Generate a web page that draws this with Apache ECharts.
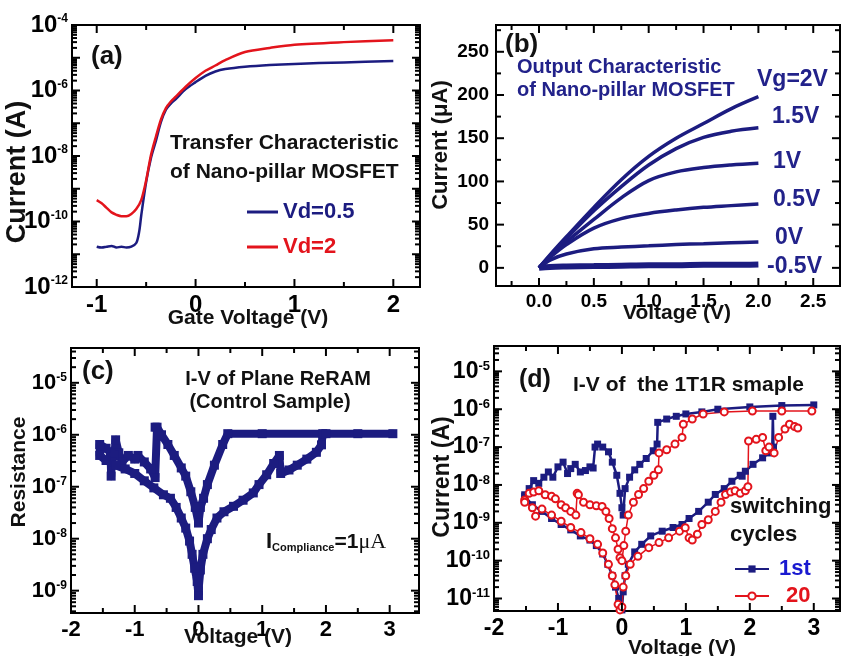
<!DOCTYPE html>
<html><head><meta charset="utf-8">
<script src="https://cdn.jsdelivr.net/npm/echarts@6/dist/echarts.min.js"></script>
<style>html,body{margin:0;padding:0;background:#fff}#c{width:842px;height:656px}</style>
</head><body><div id="c"></div>
<script>
// ---------- Panel (a): transfer characteristic ----------
const aV05 = [-1.0,-0.95,-0.9,-0.85,-0.8,-0.75,-0.7,-0.65,-0.6,-0.57,-0.55,-0.5,-0.45,-0.4,-0.35,-0.3,-0.25,-0.2,-0.1,0.0,0.1,0.2,0.3,0.5,0.75,1.0,1.5,2.0];
const aI05 = [1.7e-11,1.6e-11,1.7e-11,1.8e-11,1.6e-11,1.7e-11,1.6e-11,1.7e-11,2.2e-11,5e-11,1.5e-10,1.6e-9,9e-9,3e-8,1.1e-7,2.6e-7,4e-7,5.5e-7,1.1e-6,1.8e-6,2.8e-6,3.8e-6,4.5e-6,5.3e-6,6e-6,6.5e-6,7.2e-6,7.9e-6];
const aV2 = [-1.0,-0.95,-0.9,-0.85,-0.8,-0.75,-0.7,-0.65,-0.6,-0.55,-0.5,-0.45,-0.4,-0.35,-0.3,-0.25,-0.2,-0.1,0.0,0.1,0.2,0.3,0.5,0.75,1.0,1.5,2.0];
const aI2 = [4.5e-10,3.6e-10,2.6e-10,1.9e-10,1.6e-10,1.45e-10,1.45e-10,1.7e-10,2.4e-10,4.5e-10,1.8e-9,1.1e-8,4e-8,1.3e-7,2.9e-7,4.6e-7,6.5e-7,1.3e-6,2.4e-6,4e-6,5.8e-6,8.5e-6,1.5e-5,2e-5,2.5e-5,3e-5,3.4e-5];

// ---------- Panel (b): output characteristic (µA) ----------
const bV = [0,0.1,0.25,0.5,0.75,1.0,1.25,1.5,1.75,2.0];
const bVgNames = ['Vg=2V','1.5V','1V','0.5V','0V','-0.5V'];
const bI_2 = [0,15,36,70,102,129,150,167,184,198];
const bI_15 = [0,14,34,66,94,119,138,151,158,162];
const bI_1 = [0,13,30,56,81,101,111,116,119,121];
const bI_05 = [0,12,27,46,57,63,67,70,72,74];
const bI_0 = [0,9,16,22,24,25.5,27,28,29,30];
const bI_m05 = [0,1,1.5,2,2.5,3,3,3.5,3.5,4];

// ---------- Panel (c): I-V of plane ReRAM ----------
const cV = [0.0,0.03,0.07,0.14,0.2,0.29,0.4,0.55,0.7,0.86,0.95,1.07,1.18,1.27,1.29,1.42,1.55,1.7,1.85,1.93,1.95,2.5,3.05,2.0,1.0,0.46,0.38,0.25,0.14,0.08,0.03,0.0,-0.05,-0.12,-0.2,-0.27,-0.38,-0.48,-0.58,-0.65,-0.68,-0.68,-0.75,-0.85,-0.95,-1.0,-1.1,-1.2,-1.25,-1.3,-1.32,-1.36,-1.37,-1.38,-1.45,-1.55,-1.55,-1.45,-1.3,-1.15,-1.0,-0.85,-0.7,-0.55,-0.44,-0.35,-0.27,-0.2,-0.14,-0.1,-0.06,-0.02,0.0];
const cI = [1e-9,2.5e-9,5e-9,1e-8,1.5e-8,2.5e-8,3.3e-8,4.2e-8,5.5e-8,7.6e-8,1.1e-7,1.7e-7,2.8e-7,4e-7,1.8e-7,2.1e-7,2.6e-7,3.4e-7,4.6e-7,6.4e-7,1.05e-6,1.05e-6,1.05e-6,1.05e-6,1.05e-6,1.05e-6,6.5e-7,2.6e-7,1.1e-7,6e-8,4e-8,2e-8,4e-8,8e-8,1.6e-7,2.3e-7,4e-7,6.5e-7,1e-6,1.4e-6,1.4e-6,1.5e-7,2.2e-7,3e-7,4e-7,3.4e-7,4e-7,3e-7,4.5e-7,8e-7,4e-7,3e-7,1.6e-7,4.5e-7,5.5e-7,6.5e-7,4e-7,3.2e-7,2.6e-7,2.2e-7,1.8e-7,1.3e-7,9.5e-8,7e-8,6e-8,4e-8,2.5e-8,1.6e-8,9e-9,5e-9,2.7e-9,1.5e-9,8e-10];

// ---------- Panel (d): I-V of the 1T1R sample ----------
const d1stUpV = [-1.52,-1.45,-1.38,-1.3,-1.22,-1.15,-1.08,-1.0,-0.92,-0.85,-0.8,-0.73,-0.65,-0.57,-0.5,-0.45,-0.42,-0.38,-0.3,-0.21,-0.15,-0.08,-0.03,0.0,0.02,0.05,0.12,0.2,0.28,0.38,0.49,0.55,0.56,0.7,0.85,1.0,1.25,1.5,2.0,2.5,3.0];
const d1stUpI = [5.5e-9,8e-9,1.3e-8,1.1e-8,1.6e-8,2.2e-8,1.6e-8,3e-8,4e-8,2e-8,2.7e-8,3.5e-8,2.2e-8,2.4e-8,3e-8,2.8e-8,1e-7,1.2e-7,1e-7,7.5e-8,4e-8,1.8e-8,6e-9,2.5e-9,1.6e-9,8e-9,1.6e-8,2.5e-8,3.5e-8,5e-8,8e-8,1.2e-7,4.5e-7,5.5e-7,6.5e-7,7.5e-7,8.5e-7,1e-6,1.15e-6,1.25e-6,1.3e-6];
const d1stLoV = [-1.52,-1.4,-1.25,-1.1,-0.95,-0.8,-0.65,-0.5,-0.4,-0.3,-0.22,-0.15,-0.1,-0.05,-0.02,0.0,0.02,0.05,0.1,0.2,0.31,0.45,0.63,0.8,0.94,1.05,1.2,1.35,1.46,1.6,1.72,1.85,1.88,1.93,2.05,2.2,2.3,2.35,2.36,2.37];
const d1stLoI = [5e-9,3e-9,2e-9,1.3e-9,9e-10,6.5e-10,4.5e-10,3.5e-10,2.5e-10,1.5e-10,8e-11,4e-11,2e-11,1e-11,6e-12,5e-12,1.5e-11,4e-11,8e-11,1.7e-10,2.7e-10,4.5e-10,6e-10,7.5e-10,9e-10,1.3e-9,2e-9,3.5e-9,5.6e-9,8e-9,1.25e-8,1.8e-8,1.7e-8,2.3e-8,3.5e-8,5.2e-8,7e-8,8e-8,6.5e-7,1e-7];
const d20UpV = [-1.52,-1.45,-1.38,-1.3,-1.2,-1.1,-1.04,-0.95,-0.88,-0.8,-0.72,-0.7,-0.68,-0.6,-0.5,-0.4,-0.31,-0.25,-0.2,-0.15,-0.1,-0.06,-0.03,0.0,0.03,0.06,0.1,0.18,0.26,0.34,0.42,0.5,0.57,0.58,0.7,0.83,0.94,0.96,1.1,1.27,1.6,2.04,2.5,2.97];
const d20UpI = [4e-9,6e-9,6.5e-9,7e-9,5.5e-9,5e-9,4.3e-9,3e-9,2.5e-9,2e-9,1.6e-9,6e-9,5.5e-9,3.5e-9,3e-9,2.8e-9,2.7e-9,2e-9,1.3e-9,7e-10,4e-10,2e-10,1.2e-10,1e-10,2.5e-10,6e-10,1.6e-9,3.5e-9,5.6e-9,8e-9,1.25e-8,1.8e-8,2.5e-8,7e-8,8.5e-8,1.2e-7,1.8e-7,4e-7,5.5e-7,7.5e-7,8.5e-7,9e-7,9e-7,9e-7];
const d20LoV = [-1.52,-1.4,-1.35,-1.25,-1.1,-0.95,-0.8,-0.64,-0.5,-0.38,-0.3,-0.21,-0.15,-0.11,-0.06,-0.03,0.0,0.02,0.06,0.13,0.25,0.42,0.58,0.73,0.9,0.99,1.05,1.1,1.18,1.25,1.35,1.46,1.55,1.62,1.7,1.77,1.85,1.93,1.97,1.98,2.1,2.2,2.25,2.3,2.38,2.45,2.55,2.62,2.7,2.75];
const d20LoI = [3.5e-9,2.5e-9,1.5e-9,2.3e-9,1.6e-9,1.1e-9,7.5e-10,5.5e-10,3.8e-10,2.7e-10,1.6e-10,8e-11,4e-11,2.3e-11,7e-12,5e-12,6e-12,2e-11,4e-11,8e-11,1.3e-10,2.2e-10,3e-10,4e-10,6e-10,7.4e-10,4e-10,3.5e-10,5e-10,9e-10,1.2e-9,2e-9,3.5e-9,5.6e-9,6.5e-9,7e-9,6e-9,7e-9,9e-9,1.45e-7,1.6e-7,1.8e-7,8e-8,1e-7,7e-8,1.8e-7,3e-7,4e-7,3.5e-7,3.2e-7];

// ---------- tick labels ----------
const aXLabels = [-1,0,1,2];
const aYLabels = [-12,-10,-8,-6,-4];   // exponents of 10
const bXLabels = [0,0.5,1.0,1.5,2.0,2.5];
const bYLabels = [0,50,100,150,200,250];
const cXLabels = [-2,-1,0,1,2,3];
const cYLabels = [-9,-8,-7,-6,-5];
const dXLabels = [-2,-1,0,1,2,3];
const dYLabels = [-11,-10,-9,-8,-7,-6,-5];

const FONT = '"Liberation Sans", Arial, sans-serif';
const NAVY = '#1c1c80';
const RED = '#e3141c';

const lg = v => Math.log10(v);
const pairs = (xs, ys, f) => xs.map((x, i) => [x, f ? f(ys[i]) : ys[i]]);
function logMinors(lo, hi) {
  const out = [];
  for (let n = Math.floor(lo); n <= Math.ceil(hi); n++)
    for (let k = 2; k <= 9; k++) { const v = n + Math.log10(k); if (v > lo && v < hi) out.push(v); }
  return out;
}
function range(a, b, s) { const o = []; for (let v = a; v <= b + 1e-9; v += s) o.push(+v.toFixed(4)); return o; }

const grids = [
  { left: 72, top: 25, width: 348, height: 262 },
  { left: 496, top: 25, width: 344, height: 261 },
  { left: 71, top: 348, width: 348, height: 265 },
  { left: 494, top: 346, width: 346, height: 265 }
].map(g => Object.assign(g, { show: true, borderColor: '#000', borderWidth: 2, backgroundColor: 'transparent' }));

const xAxis = [], yAxis = [], series = [], panels = [];
function axis(list, gi, pos, r, labels, lab) {
  list.push({
    type: 'value', gridIndex: gi, position: pos, min: r[0], max: r[1],
    axisLine: { show: false, onZero: false },
    axisTick: { show: false },
    axisLabel: Object.assign({ show: true, customValues: labels }, lab),
    splitLine: { show: false }
  });
  return list.length - 1;
}
function panel(gi, x, y) {
  const xi = axis(xAxis, gi, 'bottom', x.r, x.lab, x.opt);
  const yi = axis(yAxis, gi, 'left', y.r, y.lab, y.opt);
  const P = { gi, xi, yi, x, y };
  panels.push(P);
  return P;
}
function numLab(size, margin, fmt) {
  return { fontFamily: FONT, fontWeight: 'bold', fontSize: size, color: '#000', margin: margin, formatter: fmt || (v => String(v)) };
}
function logLab(size, sup, margin) {
  return { margin: margin, formatter: v => '{b|10}{s|' + Math.round(v) + '}',
    rich: { b: { fontFamily: FONT, fontWeight: 'bold', fontSize: size, color: '#000' },
            s: { fontFamily: FONT, fontWeight: 'bold', fontSize: sup, color: '#000', verticalAlign: 'top' } } };
}

const A = panel(0,
  { r: [-1.25, 2.27], maj: [-1, 0, 1, 2], min: [-0.5, 0.5, 1.5], lab: aXLabels, opt: numLab(24, 6) },
  { r: [-12, -4], maj: range(-12, -4, 1), min: logMinors(-12, -4), lab: aYLabels, opt: logLab(24, 12, 4) });
const B = panel(1,
  { r: [-0.392, 2.744], maj: bXLabels, min: [-0.25, 0.25, 0.75, 1.25, 1.75, 2.25], lab: bXLabels, opt: numLab(19, 6, v => v.toFixed(1)) },
  { r: [-21, 281], maj: bYLabels, min: [25, 75, 125, 175, 225, 275], lab: bYLabels, opt: numLab(19, 7) });
const C = panel(2,
  { r: [-2, 3.46], maj: cXLabels, min: [-1.5, -0.5, 0.5, 1.5, 2.5], lab: cXLabels, opt: numLab(22, 6) },
  { r: [-9.43, -4.33], maj: range(-9, -5, 1), min: logMinors(-9.43, -4.33), lab: cYLabels, opt: logLab(22, 12, 4) });
const D = panel(3,
  { r: [-2, 3.41], maj: dXLabels, min: [-1.5, -0.5, 0.5, 1.5, 2.5], lab: dXLabels, opt: numLab(23, 6) },
  { r: [-11.33, -4.33], maj: range(-11, -5, 1), min: logMinors(-11.33, -4.33), lab: dYLabels, opt: logLab(23, 13, 4) });

series.push(
  { name: 'Vd=0.5', type: 'line', xAxisIndex: A.xi, yAxisIndex: A.yi, data: pairs(aV05, aI05, lg), symbol: 'none', smooth: 0.3, lineStyle: { color: NAVY, width: 2.5 }, itemStyle: { color: NAVY } },
  { name: 'Vd=2', type: 'line', xAxisIndex: A.xi, yAxisIndex: A.yi, data: pairs(aV2, aI2, lg), symbol: 'none', smooth: 0.3, lineStyle: { color: RED, width: 2.5 }, itemStyle: { color: RED } }
);
[bI_2, bI_15, bI_1, bI_05, bI_0, bI_m05].forEach((arr, i) => {
  series.push({ name: bVgNames[i], type: 'line', xAxisIndex: B.xi, yAxisIndex: B.yi, data: pairs(bV, arr), symbol: 'none', smooth: 0.35,
    lineStyle: { color: NAVY, width: i === 5 ? 6 : 3.5 } });
});
series.push({ name: 'ReRAM', type: 'line', xAxisIndex: C.xi, yAxisIndex: C.yi, data: pairs(cV, cI, lg), symbol: 'rect', symbolSize: 9,
  lineStyle: { color: NAVY, width: 8, join: 'round' }, itemStyle: { color: NAVY } });
series.push({ name: '1st', type: 'line', xAxisIndex: D.xi, yAxisIndex: D.yi, data: pairs(d1stUpV, d1stUpI, lg), symbol: 'rect', symbolSize: 7,
  lineStyle: { color: NAVY, width: 2.5 }, itemStyle: { color: NAVY } });
series.push({ name: '1st', type: 'line', xAxisIndex: D.xi, yAxisIndex: D.yi, data: pairs(d1stLoV, d1stLoI, lg), symbol: 'rect', symbolSize: 7,
  lineStyle: { color: NAVY, width: 2.5 }, itemStyle: { color: NAVY } });
series.push({ name: '20', type: 'line', xAxisIndex: D.xi, yAxisIndex: D.yi, data: pairs(d20UpV, d20UpI, lg), symbol: 'emptyCircle', symbolSize: 7,
  lineStyle: { color: RED, width: 1.5 }, itemStyle: { color: RED, borderColor: RED, borderWidth: 1.5 } });
series.push({ name: '20', type: 'line', xAxisIndex: D.xi, yAxisIndex: D.yi, data: pairs(d20LoV, d20LoI, lg), symbol: 'emptyCircle', symbolSize: 7,
  lineStyle: { color: RED, width: 1.5 }, itemStyle: { color: RED, borderColor: RED, borderWidth: 1.5 } });

function txt(x, y, text, size, opt) {
  opt = opt || {};
  return { type: 'text', x: x, y: y, rotation: opt.rot || 0, z: 100,
    style: { text: text, fontFamily: FONT, fontWeight: opt.w || 'bold', fontSize: size, fill: opt.c || '#111',
      align: opt.a || 'left', verticalAlign: 'middle' } };
}
const V = Math.PI / 2;
const BL = '#22228a';
const graphic = [
  txt(91, 57, '(a)', 26),
  txt(170, 143, 'Transfer Characteristic', 21),
  txt(170, 172, 'of Nano-pillar MOSFET', 21),
  txt(18, 172, 'Current (A)', 27, { rot: V, a: 'center' }),
  txt(248, 318, 'Gate Voltage (V)', 21, { a: 'center' }),

  txt(505, 45, '(b)', 26),
  txt(517, 67, 'Output Characteristic', 20, { c: BL }),
  txt(517, 90, 'of Nano-pillar MOSFET', 20, { c: BL }),
  txt(757, 80, 'Vg=2V', 23, { c: BL }),
  txt(772, 117, '1.5V', 23, { c: BL }),
  txt(773, 162, '1V', 23, { c: BL }),
  txt(773, 200, '0.5V', 23, { c: BL }),
  txt(775, 238, '0V', 23, { c: BL }),
  txt(767, 267, '-0.5V', 23, { c: BL }),
  txt(441, 145, 'Current (\u03bcA)', 22, { rot: V, a: 'center' }),
  txt(677, 313, 'Voltage (V)', 21, { a: 'center' }),

  txt(82, 372, '(c)', 26),
  txt(278, 379, 'I-V of Plane ReRAM', 20, { a: 'center' }),
  txt(270, 402, '(Control Sample)', 20, { a: 'center' }),
  { type: 'text', x: 266, y: 542, z: 100, style: {
      text: '{i|I}{sub|Compliance}{e|=1}{mu|\u03bcA}', verticalAlign: 'middle',
      rich: { i: { fontFamily: FONT, fontWeight: 'bold', fontSize: 22, fill: '#111' },
              sub: { fontFamily: FONT, fontWeight: 'bold', fontSize: 11, fill: '#111', verticalAlign: 'bottom' },
              e: { fontFamily: FONT, fontWeight: 'bold', fontSize: 21, fill: '#111' },
              mu: { fontFamily: '"Liberation Serif", serif', fontSize: 22, fill: '#111' } } } },
  txt(19, 472, 'Resistance', 21, { rot: V, a: 'center' }),
  txt(238, 637, 'Voltage (V)', 21, { a: 'center' }),

  txt(519, 380, '(d)', 25),
  txt(573, 385, 'I-V of  the 1T1R smaple', 21),
  txt(730, 507, 'switching', 22),
  txt(730, 535, 'cycles', 22),
  txt(443, 477, 'Current (A)', 23, { rot: V, a: 'center' }),
  txt(682, 648, 'Voltage (V)', 21, { a: 'center' })
];

const option = {
  animation: false,
  backgroundColor: '#fff',
  grid: grids,
  xAxis: xAxis,
  yAxis: yAxis,
  legend: [
    { left: 242, top: 196, orient: 'vertical', icon: 'rect', itemWidth: 31, itemHeight: 3, itemGap: 13,
      textStyle: { fontFamily: FONT, fontWeight: 'bold', fontSize: 22 },
      data: [{ name: 'Vd=0.5', textStyle: { color: NAVY } }, { name: 'Vd=2', textStyle: { color: RED } }] },
    { left: 729, top: 553, orient: 'vertical', itemWidth: 34, itemHeight: 9, itemGap: 5,
      textStyle: { fontFamily: FONT, fontWeight: 'bold', fontSize: 22, padding: [0, 0, 0, 5] },
      data: [{ name: '1st', textStyle: { color: '#1a1ad0' } }, { name: '20', textStyle: { color: RED, padding: [0, 0, 0, 12] } }] }
  ],
  series: series,
  graphic: graphic
};
const chart = echarts.init(document.getElementById('c'), null, { renderer: 'canvas' });
chart.setOption(option);

// Inside tick marks on all four sides, positioned through the axes' own scales (convertToPixel)
const tickEls = [];
function tickLine(x1, y1, x2, y2) {
  tickEls.push({ type: 'line', silent: true, z: 50, shape: { x1: x1, y1: y1, x2: x2, y2: y2 }, style: { stroke: '#000', lineWidth: 2 } });
}
panels.forEach(P => {
  const g = grids[P.gi];
  const L = g.left, R = g.left + g.width, T = g.top, Bm = g.top + g.height;
  const xt = P.x.maj.map(v => [v, 8]).concat(P.x.min.map(v => [v, 5]));
  const yt = P.y.maj.map(v => [v, 8]).concat(P.y.min.map(v => [v, 5]));
  xt.forEach(([v, len]) => {
    const px = chart.convertToPixel({ xAxisIndex: P.xi }, v);
    if (!isFinite(px)) return;
    tickLine(px, Bm, px, Bm - len);
    tickLine(px, T, px, T + len);
  });
  yt.forEach(([v, len]) => {
    const py = chart.convertToPixel({ yAxisIndex: P.yi }, v);
    if (!isFinite(py)) return;
    tickLine(L, py, L + len, py);
    tickLine(R, py, R - len, py);
  });
});
chart.setOption({ graphic: graphic.concat(tickEls) });
</script>
</body></html>
